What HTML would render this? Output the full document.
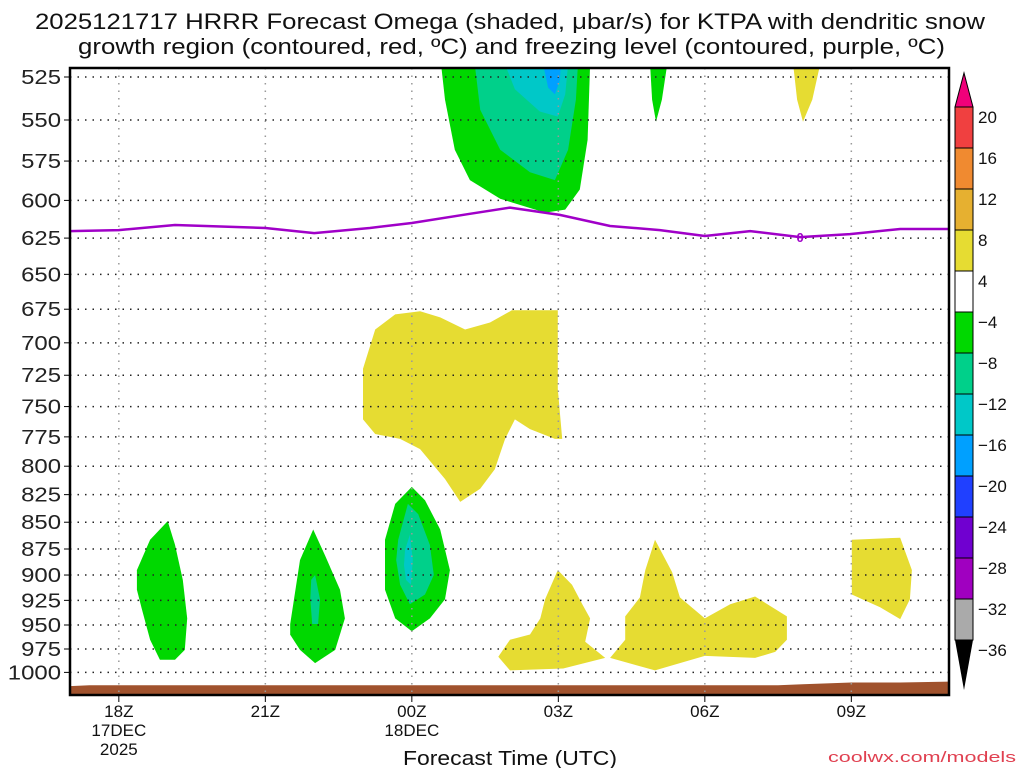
<!DOCTYPE html>
<html><head><meta charset="utf-8">
<style>
html,body{margin:0;padding:0;background:#fff;}
svg text{font-family:"Liberation Sans","DejaVu Sans",sans-serif;}
</style></head>
<body>
<svg id="chart" width="1024" height="768" viewBox="0 0 1024 768" xmlns="http://www.w3.org/2000/svg">
<rect width="1024" height="768" fill="#fff"/>
<text x="35" y="29" font-size="22" textLength="950" lengthAdjust="spacingAndGlyphs" fill="#111">2025121717 HRRR Forecast Omega (shaded, μbar/s) for KTPA with dendritic snow</text>
<text x="78" y="54" font-size="22" textLength="867" lengthAdjust="spacingAndGlyphs" fill="#111">growth region (contoured, red, ºC) and freezing level (contoured, purple, ºC)</text>
<g id="fills"></g>
<g id="grid"></g>
<g id="lines"></g>
<g id="axes"></g>
<g id="cbar"></g>
<text x="403" y="765" font-size="20" textLength="214" lengthAdjust="spacingAndGlyphs" fill="#111">Forecast Time (UTC)</text>
<text x="828" y="762" font-size="15" textLength="188" lengthAdjust="spacingAndGlyphs" fill="#e04050">coolwx.com/models</text>
</svg>
<script>
// ---- data ----
const pressureTicks = [525,550,575,600,625,650,675,700,725,750,775,800,825,850,875,900,925,950,975,1000];
const timeTicks = [18,21,24,27,30,33];
const timeTickLabels = [["18Z","17DEC","2025"],["21Z"],["00Z","18DEC"],["03Z"],["06Z"],["09Z"]];
const cbarLevels = [20,16,12,8,4,-4,-8,-12,-16,-20,-24,-28,-32,-36];
const cbarColors = ["#f04040","#f08a30","#e6b030","#e6dc32","#ffffff","#00d800","#00d08a","#00c8c8","#00a0ff","#2040ff","#7000d0","#a000c0","#aaaaaa"];
const freezeHours = [17,18,19.15,21,22,23.14,24,25.19,26.01,27.03,28.06,29.08,30,30.93,31.95,32.97,34,35];
const freezeP = [620.3,619.6,616.2,618.2,621.6,618.2,614.9,608.8,604.7,609.5,616.9,619.6,623.6,620.3,624.3,622.3,618.9,618.9];
const groundHours = [17,17.4,18,20,24,28,31.5,32,33,34,35];
const groundP = [1015,1014,1014,1014,1014,1014,1014,1013,1011,1011,1010];
const regions = [
 {name:"green-upper", c:"#00d800", pts:[[24.6,518],[24.68,538],[24.88,568],[25.19,587],[25.81,599],[26.73,608],[27.14,606],[27.44,593],[27.6,562],[27.65,518]]},
 {name:"teal-upper", c:"#00d08a", pts:[[25.29,518],[25.4,544],[25.81,568],[26.42,582],[26.93,587],[27.2,568],[27.36,538],[27.4,518]]},
 {name:"cyan-upper", c:"#00c8c8", pts:[[25.91,518],[26.11,532],[26.62,545],[26.99,548],[27.14,535],[27.2,518]]},
 {name:"blue-upper", c:"#00a0ff", pts:[[26.69,518],[26.79,531],[26.93,535],[27.03,527],[27.05,518]]},
 {name:"green-upper-small", c:"#00d800", pts:[[28.88,518],[28.92,538],[29.0,551],[29.12,538],[29.23,518]]},
 {name:"yellow-upper-small", c:"#e6dc32", pts:[[31.81,518],[31.89,538],[32.01,551],[32.2,538],[32.36,518]]},
 {name:"yellow-mid", c:"#e6dc32", pts:[[23.0,719.9],[23.25,690],[23.66,678.8],[24.17,676.5],[24.58,681],[25.09,690],[25.6,684.8],[26.05,675.8],[26.99,675.8],[26.99,735.8],[27.08,776.7],[26.93,776.7],[26.42,768.5],[26.11,760.5],[25.91,776.7],[25.7,802.6],[25.4,819.8],[24.99,831.5],[24.68,811.2],[24.17,785.3],[23.76,776.7],[23.25,772.6],[23.0,760.5]]},
 {name:"green-18z", c:"#00d800", pts:[[18.37,895.2],[18.64,866.3],[19.0,849],[19.15,871],[19.31,904.8],[19.4,943.2],[19.35,976],[19.15,986.5],[18.84,986.5],[18.64,965.2],[18.47,933.6],[18.37,914.4]]},
 {name:"green-22z", c:"#00d800", pts:[[21.51,949],[21.71,885.6],[21.98,856.7],[22.22,880.8],[22.53,914.4],[22.63,943.2],[22.43,976],[22.02,990],[21.71,976],[21.51,960]]},
 {name:"teal-22z", c:"#00d08a", pts:[[21.94,904.8],[22.02,900],[22.12,924],[22.08,949],[21.96,949],[21.92,924]]},
 {name:"green-00z", c:"#00d800", pts:[[23.45,866.3],[23.66,833.3],[24.0,818.1],[24.27,830],[24.58,856.7],[24.78,895.2],[24.68,924],[24.37,943.2],[24.0,956.5],[23.66,943.2],[23.45,914.4]]},
 {name:"teal-00z", c:"#00d08a", pts:[[23.72,866.3],[23.92,833.3],[24.13,842.6],[24.37,871.2],[24.45,900],[24.27,919.2],[23.96,929],[23.76,909.6],[23.68,885.6]]},
 {name:"cyan-00z", c:"#00c8c8", pts:[[23.86,876],[23.96,861.5],[24.02,885.6],[23.98,909.6],[23.88,904.8],[23.84,890.4]]},
 {name:"yellow-03z", c:"#e6dc32", pts:[[25.77,983.3],[26.01,965.2],[26.42,959.8],[26.63,943.2],[26.73,924],[26.99,895.2],[27.28,909.6],[27.49,929],[27.65,943.2],[27.55,967.4],[27.96,984.4],[27.1,995.8],[26.01,997.9]]},
 {name:"yellow-06z", c:"#e6dc32", pts:[[28.06,984.4],[28.37,965.2],[28.37,941.2],[28.67,922.1],[28.78,895.2],[28.98,866.3],[29.33,897.1],[29.49,922.1],[30.0,943.2],[30.52,929],[31.03,921.2],[31.68,941.2],[31.68,965.2],[31.44,978.1],[31.03,984.4],[30.0,982.3],[28.98,997.9]]},
 {name:"yellow-09z", c:"#e6dc32", pts:[[33.01,866.3],[34.0,864.4],[34.24,895.2],[34.2,924],[34.0,944],[33.59,932],[33.01,919.2]]}
];
// ---- axes ----
const L=70,R=949,T=68,B=695;
const h0=17,h1=35;
function xOf(h){return L+(h-h0)/(h1-h0)*(R-L);}
function yOf(p){return 77+(Math.log(p)-Math.log(525))*924;}
const NS="http://www.w3.org/2000/svg";
function mk(tag,attrs,parent){const e=document.createElementNS(NS,tag);for(const k in attrs)e.setAttribute(k,attrs[k]);parent.appendChild(e);return e;}
const clip=mk("clipPath",{id:"plotclip"},document.getElementById("chart"));
mk("rect",{x:L,y:T,width:R-L,height:B-T},clip);
const fills=document.getElementById("fills");
fills.setAttribute("clip-path","url(#plotclip)");
regions.forEach(r=>{
  const d=r.pts.map((q,i)=>(i?"L":"M")+xOf(q[0]).toFixed(1)+","+yOf(q[1]).toFixed(1)).join("")+"Z";
  const el=mk("path",{d:d,fill:r.c},fills);
  
  
});
{
  let d="M"+xOf(groundHours[0])+","+B;
  groundHours.forEach((h,i)=>{d+="L"+xOf(h).toFixed(1)+","+yOf(groundP[i]).toFixed(1);});
  d+="L"+xOf(groundHours[groundHours.length-1])+","+B+"Z";
  const g=mk("path",{d:d,fill:"#a0522d"},fills);
  
  
}
const grid=document.getElementById("grid");
pressureTicks.forEach(p=>{
  const y=yOf(p);
  const l=mk("line",{x1:L,x2:R,y1:y,y2:y,stroke:"#222","stroke-width":1.5,"stroke-dasharray":"1.5 6"},grid);
  
  
});
timeTicks.forEach(h=>{
  const x=xOf(h);
  const l=mk("line",{x1:x,x2:x,y1:T,y2:B,stroke:"#999","stroke-width":1.5,"stroke-dasharray":"1.5 6"},grid);
  
  
});
const lines=document.getElementById("lines");
{
  const d=freezeHours.map((h,i)=>(i?"L":"M")+xOf(h).toFixed(1)+","+yOf(freezeP[i]).toFixed(1)).join("");
  const fl=mk("path",{d:d,fill:"none",stroke:"#a000c8","stroke-width":2.5,"stroke-linejoin":"round"},lines);
  
  
  const t=mk("text",{x:xOf(31.95),y:yOf(624.3)+5,"font-size":13,"font-weight":"bold","text-anchor":"middle",fill:"#a000c8"},lines);
  t.textContent="0";
  
  
}
const axes=document.getElementById("axes");
{
  const fr=mk("rect",{x:L,y:T,width:R-L,height:B-T,fill:"none",stroke:"#000","stroke-width":2.5},axes);
  
  
}
pressureTicks.forEach(p=>{
  const y=yOf(p);
  mk("line",{x1:L-6,x2:L,y1:y,y2:y,stroke:"#000","stroke-width":1},axes);
  const s=String(p);
  const t=mk("text",{x:L-9,y:y+7,"font-size":20,"text-anchor":"end",fill:"#222",textLength:s.length*13.3,lengthAdjust:"spacingAndGlyphs"},axes);
  t.textContent=s;
  
  
});
timeTicks.forEach((h,i)=>{
  const x=xOf(h);
  mk("line",{x1:x,x2:x,y1:B,y2:B+7,stroke:"#000","stroke-width":1},axes);
  timeTickLabels[i].forEach((s,j)=>{
    const t=mk("text",{x:x,y:B+22+j*19,"font-size":17,"text-anchor":"middle",fill:"#111"},axes);
    t.textContent=s;
    
    
  });
});
const cb=document.getElementById("cbar");
const cx=955,cw=18,ctop=107,cstep=41;
cbarColors.forEach((c,i)=>{
  const r=mk("rect",{x:cx,y:ctop+i*cstep,width:cw,height:cstep,fill:c,stroke:"#000","stroke-width":1},cb);
  
  
});
{
  const up=mk("polygon",{points:`${cx},${ctop} ${cx+cw},${ctop} ${cx+cw/2},${ctop-34}`,fill:"#f0007a",stroke:"#000","stroke-width":1},cb);
  
  
  const yb=ctop+cbarColors.length*cstep;
  const dn=mk("polygon",{points:`${cx},${yb} ${cx+cw},${yb} ${cx+cw/2},${yb+50}`,fill:"#000"},cb);
  
  
}
cbarLevels.forEach((v,i)=>{
  const t=mk("text",{x:978,y:ctop+i*cstep+16,"font-size":17,fill:"#111"},cb);
  t.textContent=v<0?"\u2212"+(-v):String(v);
  
  
});
</script>
</body></html>
